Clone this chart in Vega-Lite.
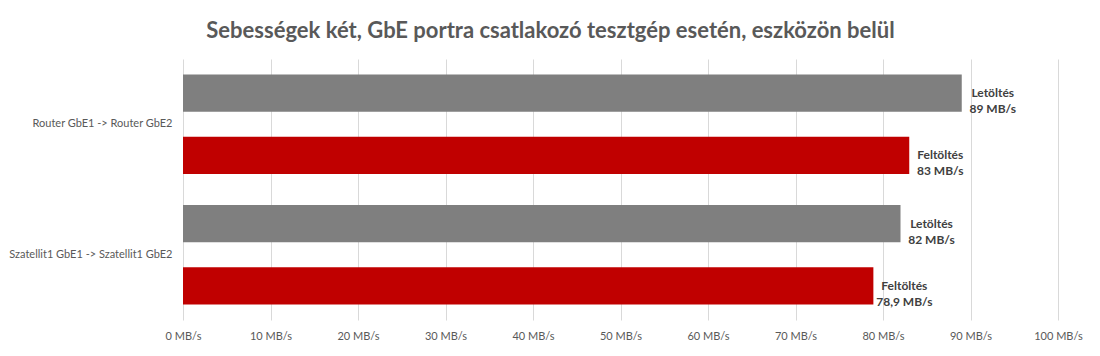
{
  "$schema": "https://vega.github.io/schema/vega-lite/v6.json",
  "width": 875,
  "height": 261,
  "autosize": {"type": "none"},
  "padding": {"left": 183, "top": 59, "right": 42, "bottom": 36},
  "background": "white",
  "title": {
    "text": "Sebességek két, GbE portra csatlakozó tesztgép esetén, eszközön belül",
    "font": "Lato",
    "fontSize": 22,
    "fontWeight": "bold",
    "color": "#595959",
    "anchor": "middle",
    "dx": -70,
    "offset": 16
  },
  "data": {
    "values": [
      {"kapcsolat": "Router GbE1 -> Router GbE2", "irany": "Letöltés", "sebesseg": 89, "felirat": "Letöltés\n89 MB/s"},
      {"kapcsolat": "Router GbE1 -> Router GbE2", "irany": "Feltöltés", "sebesseg": 83, "felirat": "Feltöltés\n83 MB/s"},
      {"kapcsolat": "Szatellit1 GbE1 -> Szatellit1 GbE2", "irany": "Letöltés", "sebesseg": 82, "felirat": "Letöltés\n82 MB/s"},
      {"kapcsolat": "Szatellit1 GbE1 -> Szatellit1 GbE2", "irany": "Feltöltés", "sebesseg": 78.9, "felirat": "Feltöltés\n78,9 MB/s"}
    ]
  },
  "encoding": {
    "y": {
      "field": "kapcsolat",
      "type": "nominal",
      "sort": ["Router GbE1 -> Router GbE2", "Szatellit1 GbE1 -> Szatellit1 GbE2"],
      "scale": {"paddingInner": 0, "paddingOuter": 0},
      "axis": {
        "title": null,
        "ticks": false,
        "domain": false,
        "labelFont": "Lato",
        "labelFontSize": 11,
        "labelColor": "#595959",
        "labelPadding": 11
      }
    },
    "yOffset": {
      "field": "irany",
      "type": "nominal",
      "sort": ["Letöltés", "Feltöltés"],
      "scale": {"paddingInner": 0.403, "paddingOuter": 0.25}
    },
    "x": {
      "field": "sebesseg",
      "type": "quantitative",
      "scale": {"domain": [0, 100]},
      "axis": {
        "title": null,
        "values": [0, 10, 20, 30, 40, 50, 60, 70, 80, 90, 100],
        "labelExpr": "datum.value + ' MB/s'",
        "labelOverlap": false,
        "labelFlush": false,
        "ticks": false,
        "domain": false,
        "grid": true,
        "gridColor": "#d9d9d9",
        "labelFont": "Lato",
        "labelFontSize": 11,
        "labelColor": "#595959",
        "labelPadding": 10
      }
    }
  },
  "layer": [
    {
      "mark": {"type": "bar"},
      "encoding": {
        "color": {
          "field": "irany",
          "type": "nominal",
          "scale": {"domain": ["Letöltés", "Feltöltés"], "range": ["#7f7f7f", "#c00000"]},
          "legend": null
        }
      }
    },
    {
      "mark": {
        "type": "text",
        "align": "center",
        "baseline": "middle",
        "dx": 31,
        "lineBreak": "\n",
        "lineHeight": 16,
        "font": "Lato",
        "fontSize": 12,
        "fontWeight": "bold",
        "color": "#404040"
      },
      "encoding": {"text": {"field": "felirat"}}
    }
  ],
  "config": {"view": {"stroke": null}}
}
